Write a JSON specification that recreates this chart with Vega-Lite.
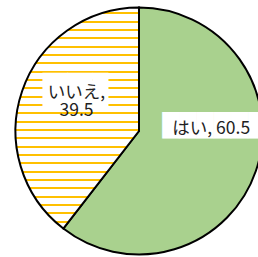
{
  "$schema": "https://vega.github.io/schema/vega-lite/v6.json",
  "autosize": "none",
  "padding": 0,
  "width": 278,
  "height": 262,
  "background": "white",
  "config": {"view": {"stroke": null}},
  "data": {"values": [
    {"answer": "はい", "value": 60.5},
    {"answer": "いいえ", "value": 39.5}
  ]},
  "transform": [
    {"calculate": "datum.answer + (datum.answer === 'いいえ' ? ',\\n' : ', ') + format(datum.value, '.1f')", "as": "label"}
  ],
  "encoding": {
    "theta": {"field": "value", "type": "quantitative", "stack": true},
    "order": {"field": "value", "type": "quantitative", "sort": "descending"},
    "detail": {"field": "answer", "type": "nominal"}
  },
  "layer": [
    {
      "mark": {"type": "arc", "radius": 123.5, "stroke": "black", "strokeWidth": 2},
      "encoding": {
        "fill": {
          "condition": {"test": "datum.answer === 'はい'", "value": "#a9d18e"},
          "value": {"gradient": "linear", "x1": 0, "y1": 0, "x2": 0, "y2": 1, "stops": [
            {"offset": 0, "color": "#ffffff"},
            {"offset": 0.0217, "color": "#ffffff"}, {"offset": 0.0217, "color": "#ffc000"}, {"offset": 0.0308, "color": "#ffc000"}, {"offset": 0.0308, "color": "#ffffff"},
            {"offset": 0.0594, "color": "#ffffff"}, {"offset": 0.0594, "color": "#ffc000"}, {"offset": 0.0684, "color": "#ffc000"}, {"offset": 0.0684, "color": "#ffffff"},
            {"offset": 0.0971, "color": "#ffffff"}, {"offset": 0.0971, "color": "#ffc000"}, {"offset": 0.1061, "color": "#ffc000"}, {"offset": 0.1061, "color": "#ffffff"},
            {"offset": 0.1347, "color": "#ffffff"}, {"offset": 0.1347, "color": "#ffc000"}, {"offset": 0.1438, "color": "#ffc000"}, {"offset": 0.1438, "color": "#ffffff"},
            {"offset": 0.1724, "color": "#ffffff"}, {"offset": 0.1724, "color": "#ffc000"}, {"offset": 0.1814, "color": "#ffc000"}, {"offset": 0.1814, "color": "#ffffff"},
            {"offset": 0.2101, "color": "#ffffff"}, {"offset": 0.2101, "color": "#ffc000"}, {"offset": 0.2191, "color": "#ffc000"}, {"offset": 0.2191, "color": "#ffffff"},
            {"offset": 0.2478, "color": "#ffffff"}, {"offset": 0.2478, "color": "#ffc000"}, {"offset": 0.2568, "color": "#ffc000"}, {"offset": 0.2568, "color": "#ffffff"},
            {"offset": 0.2854, "color": "#ffffff"}, {"offset": 0.2854, "color": "#ffc000"}, {"offset": 0.2945, "color": "#ffc000"}, {"offset": 0.2945, "color": "#ffffff"},
            {"offset": 0.3231, "color": "#ffffff"}, {"offset": 0.3231, "color": "#ffc000"}, {"offset": 0.3322, "color": "#ffc000"}, {"offset": 0.3322, "color": "#ffffff"},
            {"offset": 0.3608, "color": "#ffffff"}, {"offset": 0.3608, "color": "#ffc000"}, {"offset": 0.3698, "color": "#ffc000"}, {"offset": 0.3698, "color": "#ffffff"},
            {"offset": 0.3985, "color": "#ffffff"}, {"offset": 0.3985, "color": "#ffc000"}, {"offset": 0.4075, "color": "#ffc000"}, {"offset": 0.4075, "color": "#ffffff"},
            {"offset": 0.4361, "color": "#ffffff"}, {"offset": 0.4361, "color": "#ffc000"}, {"offset": 0.4452, "color": "#ffc000"}, {"offset": 0.4452, "color": "#ffffff"},
            {"offset": 0.4738, "color": "#ffffff"}, {"offset": 0.4738, "color": "#ffc000"}, {"offset": 0.4828, "color": "#ffc000"}, {"offset": 0.4828, "color": "#ffffff"},
            {"offset": 0.5115, "color": "#ffffff"}, {"offset": 0.5115, "color": "#ffc000"}, {"offset": 0.5205, "color": "#ffc000"}, {"offset": 0.5205, "color": "#ffffff"},
            {"offset": 0.5492, "color": "#ffffff"}, {"offset": 0.5492, "color": "#ffc000"}, {"offset": 0.5582, "color": "#ffc000"}, {"offset": 0.5582, "color": "#ffffff"},
            {"offset": 0.5868, "color": "#ffffff"}, {"offset": 0.5868, "color": "#ffc000"}, {"offset": 0.5959, "color": "#ffc000"}, {"offset": 0.5959, "color": "#ffffff"},
            {"offset": 0.6245, "color": "#ffffff"}, {"offset": 0.6245, "color": "#ffc000"}, {"offset": 0.6335, "color": "#ffc000"}, {"offset": 0.6335, "color": "#ffffff"},
            {"offset": 0.6622, "color": "#ffffff"}, {"offset": 0.6622, "color": "#ffc000"}, {"offset": 0.6712, "color": "#ffc000"}, {"offset": 0.6712, "color": "#ffffff"},
            {"offset": 0.6999, "color": "#ffffff"}, {"offset": 0.6999, "color": "#ffc000"}, {"offset": 0.7089, "color": "#ffc000"}, {"offset": 0.7089, "color": "#ffffff"},
            {"offset": 0.7375, "color": "#ffffff"}, {"offset": 0.7375, "color": "#ffc000"}, {"offset": 0.7466, "color": "#ffc000"}, {"offset": 0.7466, "color": "#ffffff"},
            {"offset": 0.7752, "color": "#ffffff"}, {"offset": 0.7752, "color": "#ffc000"}, {"offset": 0.7842, "color": "#ffc000"}, {"offset": 0.7842, "color": "#ffffff"},
            {"offset": 0.8129, "color": "#ffffff"}, {"offset": 0.8129, "color": "#ffc000"}, {"offset": 0.8219, "color": "#ffc000"}, {"offset": 0.8219, "color": "#ffffff"},
            {"offset": 0.8506, "color": "#ffffff"}, {"offset": 0.8506, "color": "#ffc000"}, {"offset": 0.8596, "color": "#ffc000"}, {"offset": 0.8596, "color": "#ffffff"},
            {"offset": 0.8882, "color": "#ffffff"}, {"offset": 0.8882, "color": "#ffc000"}, {"offset": 0.8973, "color": "#ffc000"}, {"offset": 0.8973, "color": "#ffffff"},
            {"offset": 0.9259, "color": "#ffffff"}, {"offset": 0.9259, "color": "#ffc000"}, {"offset": 0.9349, "color": "#ffc000"}, {"offset": 0.9349, "color": "#ffffff"},
            {"offset": 0.9636, "color": "#ffffff"}, {"offset": 0.9636, "color": "#ffc000"}, {"offset": 0.9726, "color": "#ffc000"}, {"offset": 0.9726, "color": "#ffffff"},
            {"offset": 1, "color": "#ffffff"}
          ]}
        }
      }
    },
    {
      "mark": {"type": "text", "radius": 70, "dx": -43, "dy": -27.4, "align": "left", "baseline": "middle", "font": "DejaVu Sans", "fontSize": 22.3, "color": "#ffffff"},
      "encoding": {
        "text": {"condition": {"test": "datum.answer === 'はい'", "value": "██████"}, "value": ""}
      }
    },
    {
      "mark": {"type": "text", "radius": 65, "dx": -34.5, "dy": -17.2, "align": "left", "baseline": "middle", "font": "DejaVu Sans", "fontSize": 32.3, "color": "#ffffff"},
      "encoding": {
        "text": {"condition": {"test": "datum.answer === 'いいえ'", "value": "██▋"}, "value": ""}
      }
    },
    {
      "mark": {"type": "text", "radius": 70, "dx": 6, "dy": -25, "align": "center", "baseline": "middle", "font": "Noto Sans CJK JP", "fontSize": 17.5, "color": "#222222"},
      "encoding": {
        "text": {"condition": {"test": "datum.answer === 'はい'", "field": "label", "type": "nominal"}, "value": ""}
      }
    },
    {
      "mark": {"type": "text", "radius": 65, "dx": -1, "dy": -16.5, "align": "center", "baseline": "middle", "lineBreak": "\n", "lineHeight": 18, "font": "Noto Sans CJK JP", "fontSize": 17.5, "color": "#222222"},
      "encoding": {
        "text": {"condition": {"test": "datum.answer === 'いいえ'", "field": "label", "type": "nominal"}, "value": ""}
      }
    }
  ]
}
